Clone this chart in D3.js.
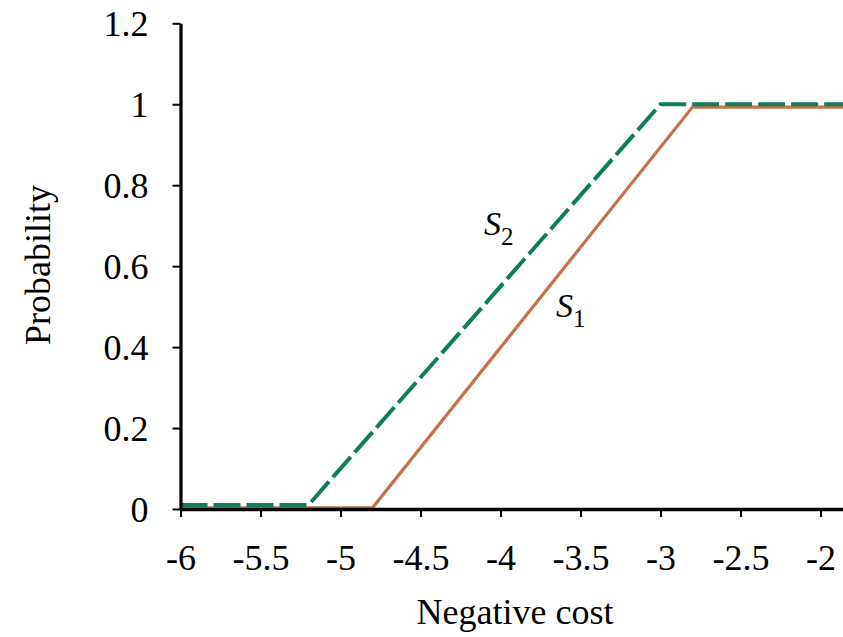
<!DOCTYPE html>
<html><head><meta charset="utf-8">
<script src="https://cdn.jsdelivr.net/npm/d3@7"></script>
<style>
body{margin:0;background:#fff;}
text{font-family:"Liberation Serif","Times New Roman",serif;fill:#000;}
</style></head>
<body><svg id="chart" width="843" height="637"></svg>
<script>
// Data
const xTicks = [-6, -5.5, -5, -4.5, -4, -3.5, -3, -2.5, -2];
const xTickLabels = ["-6", "-5.5", "-5", "-4.5", "-4", "-3.5", "-3", "-2.5", "-2"];
const yTicks = [0, 0.2, 0.4, 0.6, 0.8, 1, 1.2];
const yTickLabels = ["0", "0.2", "0.4", "0.6", "0.8", "1", "1.2"];
const s1X = [-6, -4.8, -2.8, -1.8];
const s1Y = [0.003, 0.003, 0.993, 0.993];
const s2X = [-6, -5.2, -3.0, -1.8];
const s2Y = [0.01, 0.01, 1.0, 1.0];

const svg = d3.select("#chart");
const x = d3.scaleLinear().domain([-6, -1.8]).range([180.5, 180.5 + 4.2 * 160]);
const y = d3.scaleLinear().domain([0, 1.2]).range([509, 23.3]);

// series lines
const line = d3.line().x(d => x(d[0])).y(d => y(d[1]));
const s1 = s1X.map((v, i) => [v, s1Y[i]]);
const s2 = s2X.map((v, i) => [v, s2Y[i]]);

svg.append("path").datum(s1).attr("d", line)
  .attr("fill", "none").attr("stroke", "#c7704d").attr("stroke-width", 3.2);
svg.append("path").datum(s2).attr("d", line)
  .attr("fill", "none").attr("stroke", "#0f7d5b").attr("stroke-width", 4)
  .attr("stroke-dasharray", "27,6");

// axes
const xAxis = d3.axisBottom(x).tickValues(xTicks)
  .tickFormat((d, i) => xTickLabels[i]).tickSize(8).tickSizeOuter(0).tickPadding(26);
const gx = svg.append("g").attr("transform", `translate(0,${y(0)})`).call(xAxis);
gx.select(".domain").attr("stroke", "#000").attr("stroke-width", 3.5);
gx.selectAll(".tick line").attr("stroke", "#000").attr("stroke-width", 2);
gx.selectAll(".tick text").style("font-size", "36px").attr("dy", "0.35em").attr("y", 48);

const yAxis = d3.axisLeft(y).tickValues(yTicks)
  .tickFormat((d, i) => yTickLabels[i]).tickSize(8).tickSizeOuter(0).tickPadding(24);
const gy = svg.append("g").attr("transform", `translate(${x(-6)},0)`).call(yAxis);
gy.select(".domain").attr("stroke", "#000").attr("stroke-width", 3.2);
gy.selectAll(".tick line").attr("stroke", "#000").attr("stroke-width", 2);
gy.selectAll(".tick text").style("font-size", "36px").attr("dy", "0.35em");

// axis titles
svg.append("text").attr("x", 515).attr("y", 624).attr("text-anchor", "middle")
  .style("font-size", "36px").text("Negative cost");
svg.append("text").attr("transform", "translate(50,265) rotate(-90)")
  .attr("text-anchor", "middle").style("font-size", "36px").text("Probability");

// series labels
function seriesLabel(px, py, sub) {
  const t = svg.append("text").attr("x", px).attr("y", py).style("font-size", "34px");
  t.append("tspan").style("font-style", "italic").text("S");
  t.append("tspan").attr("dy", 10).style("font-size", "25px").text(sub);
}
seriesLabel(484, 235, "2");
seriesLabel(556, 317, "1");
</script></body></html>
